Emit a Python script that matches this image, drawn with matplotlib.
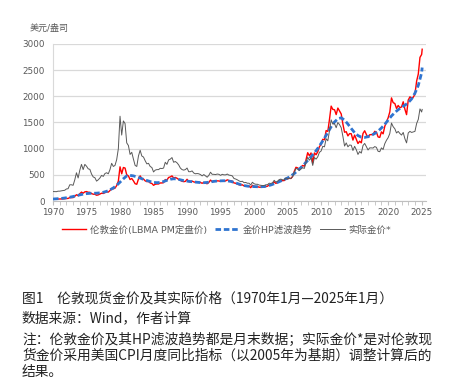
import numpy as np
import matplotlib
matplotlib.use("Agg")
import matplotlib.pyplot as plt
from matplotlib.ticker import MultipleLocator

plt.rcParams['font.family'] = ['DejaVu Sans', 'Noto Sans CJK SC']

# 伦敦金价, quarter-start points (Jan, Apr, Jul, Oct), 1970-2024
red_rows = [
    [35, 35.5, 35.3, 37.5], [38, 39.5, 41, 42.5], [48, 49, 65, 65], [65, 90, 120, 100],
    [140, 170, 150, 175], [180, 167, 166, 142], [130, 128, 110, 117], [132, 149, 144, 160],
    [175, 170, 200, 240], [233, 245, 295, 380], [653, 520, 640, 630], [500, 480, 410, 430],
    [385, 330, 320, 420], [480, 430, 420, 385], [370, 375, 345, 335], [300, 320, 325, 325],
    [345, 345, 350, 410], [400, 450, 460, 480], [440, 450, 435, 412], [395, 377, 370, 375],
    [415, 370, 370, 380], [365, 357, 362, 357], [355, 338, 357, 340], [330, 355, 400, 370],
    [380, 376, 385, 383], [375, 390, 383, 383], [405, 391, 385, 379], [345, 340, 326, 311],
    [303, 310, 288, 292], [285, 285, 255, 300], [283, 276, 276, 264], [265, 264, 265, 278],
    [282, 308, 304, 317], [367, 336, 354, 386], [400, 389, 391, 425], [422, 435, 430, 470],
    [568, 644, 633, 603], [650, 679, 665, 789], [923, 865, 918, 730], [919, 884, 940, 1040],
    [1078, 1180, 1169, 1346], [1330, 1560, 1813, 1750], [1744, 1651, 1776, 1719],
    [1664, 1469, 1314, 1324], [1244, 1288, 1285, 1164], [1260, 1180, 1098, 1142],
    [1111, 1290, 1342, 1272], [1212, 1266, 1269, 1270], [1331, 1316, 1224, 1215],
    [1321, 1283, 1427, 1511], [1589, 1702, 1970, 1879], [1863, 1769, 1826, 1783],
    [1797, 1896, 1754, 1650], [1929, 1990, 1965, 1983], [2040, 2290, 2426, 2744],
]
red_tail = [2800, 2900]

# 实际金价*, same dates
real_rows = [
    [181, 180, 178, 188], [188, 195, 200, 205], [230, 235, 310, 310], [300, 405, 540, 440],
    [590, 700, 600, 700], [665, 615, 605, 515], [460, 445, 380, 405], [440, 490, 470, 525],
    [540, 520, 600, 720], [660, 680, 790, 1000], [1620, 1260, 1530, 1480], [1110, 1060, 890, 930],
    [800, 680, 660, 860], [970, 860, 840, 770], [710, 720, 660, 640], [555, 590, 600, 600],
    [625, 620, 630, 740], [700, 785, 800, 830], [740, 755, 730, 690], [630, 600, 590, 600],
    [630, 560, 560, 575], [535, 520, 525, 520], [505, 480, 505, 480], [455, 490, 550, 510],
    [510, 505, 515, 510], [490, 510, 500, 500], [515, 495, 490, 480], [430, 420, 405, 385],
    [370, 378, 350, 355], [340, 340, 305, 358], [330, 320, 320, 305], [300, 295, 296, 310],
    [312, 340, 335, 348], [395, 360, 378, 410], [418, 405, 405, 440], [425, 435, 430, 465],
    [552, 623, 610, 585], [612, 636, 623, 738], [835, 780, 820, 680], [830, 800, 845, 930],
    [955, 1045, 1035, 1190], [1150, 1340, 1550, 1470], [1480, 1400, 1500, 1460],
    [1400, 1235, 1050, 1110], [1035, 1070, 1065, 965], [1045, 980, 890, 945],
    [915, 1060, 1100, 1040], [975, 1015, 1015, 1012], [1040, 1025, 950, 942],
    [1015, 985, 1095, 1160], [1210, 1290, 1490, 1420], [1380, 1300, 1330, 1290],
    [1260, 1310, 1190, 1110], [1300, 1330, 1310, 1320], [1330, 1480, 1560, 1760],
]
real_tail = [1700, 1750]

# 金价HP滤波趋势, half-year points from 1970.0
hp_vals = [
    38, 42, 47, 53, 62, 73, 86, 101, 117, 131, 141, 146, 148, 150, 156, 167, 185, 212,
    250, 300, 360, 425, 480, 490, 480, 460, 438, 414, 392, 372, 356, 350, 355, 372,
    395, 415, 425, 420, 405, 390, 380, 372, 365, 358, 352, 350, 355, 365, 375, 382,
    385, 387, 385, 375, 357, 335, 313, 296, 284, 278, 275, 273, 272, 276, 288, 306,
    330, 355, 383, 410, 440, 478, 525, 580, 640, 705, 775, 845, 920, 1005, 1100, 1200,
    1310, 1420, 1510, 1570, 1590, 1545, 1470, 1385, 1305, 1250, 1220, 1215, 1230, 1255,
    1290, 1335, 1395, 1465, 1545, 1625, 1690, 1745, 1790, 1830, 1880, 1950, 2060, 2210,
    2450,
]
hp_tail = [2550]

start_year = 1970
red = [v for row in red_rows for v in row] + red_tail
real = [v for row in real_rows for v in row] + real_tail
q_dates = [start_year + i / 4 for i in range(len(red) - 1)] + [2025.08]
hp = hp_vals + hp_tail
hp_dates = [start_year + i / 2 for i in range(len(hp_vals))] + [2025.08]

fig = plt.figure(figsize=(4.53, 3.90), dpi=100)
ax = fig.add_axes([0.117, 0.4846, 0.8234, 0.4026])

ax.plot(q_dates, red, color='#ff0000', lw=1.0, label='伦敦金价(LBMA PM定盘价)', zorder=2)
ax.plot(hp_dates, hp, color='#2f74d0', lw=2.0, ls=(0, (2, 1)), label='金价HP滤波趋势', zorder=3)
ax.plot(q_dates, real, color='#595959', lw=0.7, label='实际金价*', zorder=4)

ax.set_xlim(1970, 2025.65)
ax.set_ylim(0, 3000)
ax.xaxis.set_major_locator(MultipleLocator(5))
ax.xaxis.set_minor_locator(MultipleLocator(1))
ax.yaxis.set_major_locator(MultipleLocator(500))
ax.grid(axis='y', color='#d9d9d9', lw=0.9)
ax.set_axisbelow(True)
for s in ['top', 'right']:
    ax.spines[s].set_visible(False)
ax.spines['left'].set_color('#d9d9d9')
ax.spines['bottom'].set_color('#bfbfbf')
ax.tick_params(axis='y', length=0, pad=6, labelsize=6.3, labelcolor='#595959')
ax.tick_params(axis='x', which='both', length=3, color='#bfbfbf', pad=2,
               labelsize=6.3, labelcolor='#595959')

fig.text(30 / 453, 1 - 28 / 390, '美元/盎司', fontsize=6.5, color='#595959', va='center')

fig.legend(loc='center', bbox_to_anchor=(0.5, 1 - 230 / 390), ncol=3, frameon=False,
           fontsize=6.8, handlelength=2.6, handletextpad=0.4, columnspacing=0.8,
           labelcolor='#595959')

cap = dict(fontsize=9.9, color='#222222', va='center', family=['Noto Sans CJK SC', 'DejaVu Sans'])
fig.text(22 / 453, 1 - 298 / 390, '图1\u3000伦敦现货金价及其实际价格（1970年1月—2025年1月）', **cap)
fig.text(22 / 453, 1 - 318 / 390, '数据来源：Wind，作者计算', **cap)
fig.text(22 / 453, 1 - 340 / 390, '注：伦敦金价及其HP滤波趋势都是月末数据；实际金价*是对伦敦现', **cap)
fig.text(22 / 453, 1 - 356 / 390, '货金价采用美国CPI月度同比指标（以2005年为基期）调整计算后的', **cap)
fig.text(22 / 453, 1 - 372 / 390, '结果。', **cap)

fig.savefig('out.png', dpi=100)
